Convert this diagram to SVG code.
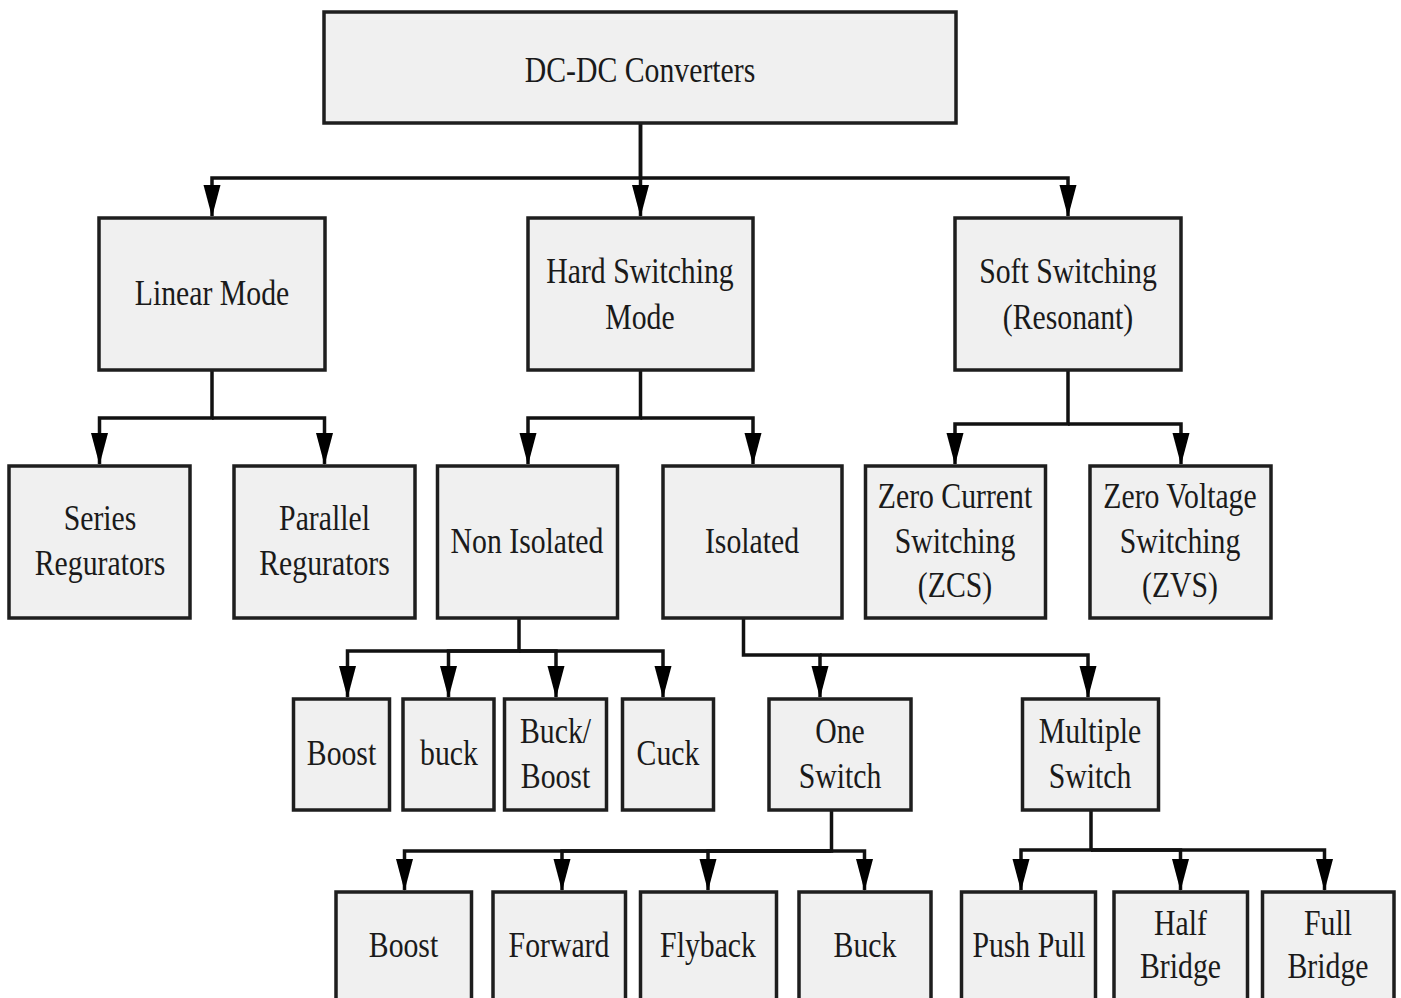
<svg xmlns="http://www.w3.org/2000/svg" width="1401" height="998" viewBox="0 0 1401 998">
<style>
.box{fill:#f0f0f0;stroke:#1e1e1e;stroke-width:3.5}
.lbl{font-family:"Liberation Serif","Times New Roman",serif;font-size:35px;fill:#1a1a1a;text-anchor:middle}
.con{fill:none;stroke:#111;stroke-width:3.5}
</style>
<defs>
<marker id="ah" markerUnits="userSpaceOnUse" markerWidth="32" markerHeight="18" viewBox="0 0 32 18" refX="31" refY="9" orient="auto">
<path d="M0,0.5 L32,9 L0,17.5 z" fill="#000"/>
</marker>
</defs>
<rect width="1401" height="998" fill="#fff"/>
<g id="connectors">
<path class="con" d="M640.5,123 V178 H212 V216" marker-end="url(#ah)"/>
<path class="con" d="M640.5,123 V216" marker-end="url(#ah)"/>
<path class="con" d="M640.5,178 H1068 V216" marker-end="url(#ah)"/>
<path class="con" d="M212,370 V418 H99.5 V464" marker-end="url(#ah)"/>
<path class="con" d="M212,418 H324.5 V464" marker-end="url(#ah)"/>
<path class="con" d="M640.5,370 V418 H528 V464" marker-end="url(#ah)"/>
<path class="con" d="M640.5,418 H753 V464" marker-end="url(#ah)"/>
<path class="con" d="M1068,370 V424 H955 V464" marker-end="url(#ah)"/>
<path class="con" d="M1068,424 H1181 V464" marker-end="url(#ah)"/>
<path class="con" d="M519,618 V651 H347.5 V697" marker-end="url(#ah)"/>
<path class="con" d="M519,651 H448.5 V697" marker-end="url(#ah)"/>
<path class="con" d="M519,651 H556 V697" marker-end="url(#ah)"/>
<path class="con" d="M519,651 H663 V697" marker-end="url(#ah)"/>
<path class="con" d="M743.5,618 V655 H820 V697" marker-end="url(#ah)"/>
<path class="con" d="M820,655 H1088 V697" marker-end="url(#ah)"/>
<path class="con" d="M831.5,810 V851 H404.5 V890" marker-end="url(#ah)"/>
<path class="con" d="M831.5,851 H562 V890" marker-end="url(#ah)"/>
<path class="con" d="M831.5,851 H708 V890" marker-end="url(#ah)"/>
<path class="con" d="M831.5,851 H864.5 V890" marker-end="url(#ah)"/>
<path class="con" d="M1091,810 V850 H1021 V890" marker-end="url(#ah)"/>
<path class="con" d="M1091,850 H1180.5 V890" marker-end="url(#ah)"/>
<path class="con" d="M1091,850 H1324.5 V890" marker-end="url(#ah)"/>
</g>
<g id="n-root"><rect class="box" x="324" y="12" width="632" height="111"/>
<text class="lbl" transform="translate(640,0) scale(0.85,1)" x="0" y="82">DC-DC Converters</text></g>
<g id="n-linear"><rect class="box" x="99" y="218" width="226" height="152"/>
<text class="lbl" transform="translate(212,0) scale(0.85,1)" x="0" y="305">Linear Mode</text></g>
<g id="n-hard"><rect class="box" x="528" y="218" width="225" height="152"/>
<text class="lbl" transform="translate(640,0) scale(0.85,1)"><tspan x="0" y="283">Hard Switching</tspan><tspan x="0" y="329">Mode</tspan></text></g>
<g id="n-soft"><rect class="box" x="955" y="218" width="226" height="152"/>
<text class="lbl" transform="translate(1068,0) scale(0.85,1)"><tspan x="0" y="283">Soft Switching</tspan><tspan x="0" y="329">(Resonant)</tspan></text></g>
<g id="n-series"><rect class="box" x="9" y="466" width="181" height="152"/>
<text class="lbl" transform="translate(100,0) scale(0.85,1)"><tspan x="0" y="530">Series</tspan><tspan x="0" y="575">Regurators</tspan></text></g>
<g id="n-parallel"><rect class="box" x="234" y="466" width="181" height="152"/>
<text class="lbl" transform="translate(324.5,0) scale(0.85,1)"><tspan x="0" y="530">Parallel</tspan><tspan x="0" y="575">Regurators</tspan></text></g>
<g id="n-nonisolated"><rect class="box" x="437.5" y="466" width="180" height="152"/>
<text class="lbl" transform="translate(527,0) scale(0.85,1)" x="0" y="553">Non Isolated</text></g>
<g id="n-isolated"><rect class="box" x="663" y="466" width="179" height="152"/>
<text class="lbl" transform="translate(752,0) scale(0.85,1)" x="0" y="553">Isolated</text></g>
<g id="n-zcs"><rect class="box" x="865.5" y="466" width="180" height="152"/>
<text class="lbl" transform="translate(955,0) scale(0.85,1)"><tspan x="0" y="508">Zero Current</tspan><tspan x="0" y="553">Switching</tspan><tspan x="0" y="597">(ZCS)</tspan></text></g>
<g id="n-zvs"><rect class="box" x="1090" y="466" width="181" height="152"/>
<text class="lbl" transform="translate(1180,0) scale(0.85,1)"><tspan x="0" y="508">Zero Voltage</tspan><tspan x="0" y="553">Switching</tspan><tspan x="0" y="597">(ZVS)</tspan></text></g>
<g id="n-boost1"><rect class="box" x="293.5" y="699" width="96" height="111"/>
<text class="lbl" transform="translate(341.5,0) scale(0.85,1)" x="0" y="765">Boost</text></g>
<g id="n-buck1"><rect class="box" x="403" y="699" width="91" height="111"/>
<text class="lbl" transform="translate(449,0) scale(0.85,1)" x="0" y="765">buck</text></g>
<g id="n-buckboost"><rect class="box" x="504.5" y="699" width="102" height="111"/>
<text class="lbl" transform="translate(555.5,0) scale(0.85,1)"><tspan x="0" y="743">Buck/</tspan><tspan x="0" y="788">Boost</tspan></text></g>
<g id="n-cuck"><rect class="box" x="622.5" y="699" width="91" height="111"/>
<text class="lbl" transform="translate(668,0) scale(0.85,1)" x="0" y="765">Cuck</text></g>
<g id="n-one"><rect class="box" x="769" y="699" width="142" height="111"/>
<text class="lbl" transform="translate(840,0) scale(0.85,1)"><tspan x="0" y="743">One</tspan><tspan x="0" y="788">Switch</tspan></text></g>
<g id="n-multiple"><rect class="box" x="1022.5" y="699" width="136" height="111"/>
<text class="lbl" transform="translate(1090,0) scale(0.85,1)"><tspan x="0" y="743">Multiple</tspan><tspan x="0" y="788">Switch</tspan></text></g>
<g id="n-boost2"><rect class="box" x="336" y="892" width="135.5" height="130"/>
<text class="lbl" transform="translate(403.5,0) scale(0.85,1)" x="0" y="957">Boost</text></g>
<g id="n-forward"><rect class="box" x="493" y="892" width="132.5" height="130"/>
<text class="lbl" transform="translate(559,0) scale(0.85,1)" x="0" y="957">Forward</text></g>
<g id="n-flyback"><rect class="box" x="640.5" y="892" width="136" height="130"/>
<text class="lbl" transform="translate(708,0) scale(0.85,1)" x="0" y="957">Flyback</text></g>
<g id="n-buck2"><rect class="box" x="799" y="892" width="132" height="130"/>
<text class="lbl" transform="translate(865,0) scale(0.85,1)" x="0" y="957">Buck</text></g>
<g id="n-pushpull"><rect class="box" x="961.5" y="892" width="134" height="130"/>
<text class="lbl" transform="translate(1029,0) scale(0.85,1)" x="0" y="957">Push Pull</text></g>
<g id="n-halfbridge"><rect class="box" x="1114" y="892" width="133.5" height="130"/>
<text class="lbl" transform="translate(1180.5,0) scale(0.85,1)"><tspan x="0" y="935">Half</tspan><tspan x="0" y="978">Bridge</tspan></text></g>
<g id="n-fullbridge"><rect class="box" x="1262.5" y="892" width="131.5" height="130"/>
<text class="lbl" transform="translate(1328,0) scale(0.85,1)"><tspan x="0" y="935">Full</tspan><tspan x="0" y="978">Bridge</tspan></text></g>
</svg>
